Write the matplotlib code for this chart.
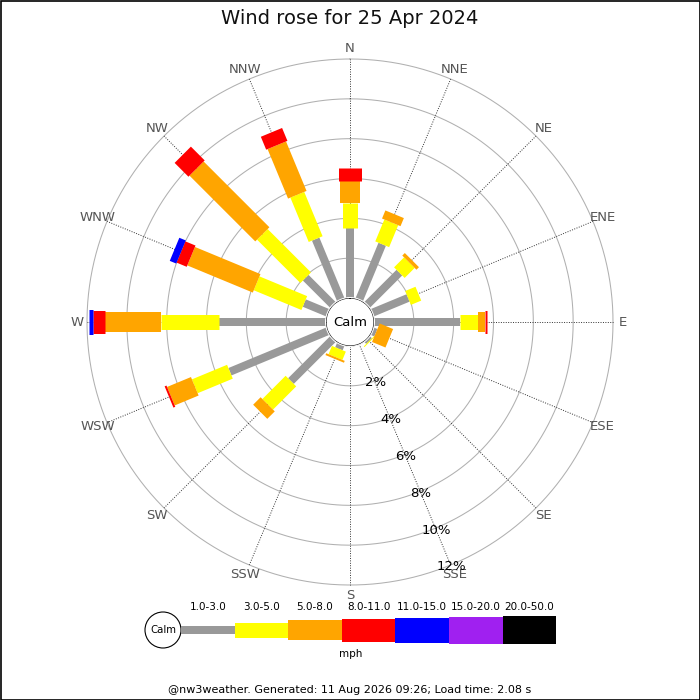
import numpy as np
import matplotlib
matplotlib.use("Agg")
import matplotlib.pyplot as plt
from matplotlib.patches import Circle, Rectangle

# ---------------- data ----------------
directions = ["N", "NNE", "NE", "ENE", "E", "ESE", "SE", "SSE",
              "S", "SSW", "SW", "WSW", "W", "WNW", "NW", "NNW"]
speed_classes = ["1.0-3.0", "3.0-5.0", "5.0-8.0", "8.0-11.0",
                 "11.0-15.0", "15.0-20.0", "20.0-50.0"]
# percentage of time per direction for each speed class
pct_1_3 = [3.53, 3.02, 2.30, 1.95, 4.32, 0.20, 0.15, 0.0,
           0.0, 0.25, 2.99, 5.32, 5.36, 1.28, 1.94, 3.30]
pct_3_5 = [1.25, 1.19, 0.71, 0.56, 0.89, 0.0, 0.05, 0.0,
           0.0, 0.45, 1.65, 1.91, 2.92, 2.59, 3.08, 2.41]
pct_5_8 = [1.11, 0.44, 0.18, 0.0, 0.36, 0.73, 0.0, 0.0,
           0.0, 0.10, 0.53, 1.30, 2.81, 3.56, 4.67, 2.69]
pct_8_11 = [0.62, 0.0, 0.0, 0.0, 0.10, 0.0, 0.0, 0.0,
            0.0, 0.0, 0.0, 0.10, 0.59, 0.55, 0.98, 0.70]
pct_11_15 = [0.0, 0.0, 0.0, 0.0, 0.0, 0.0, 0.0, 0.0,
             0.0, 0.0, 0.0, 0.0, 0.20, 0.35, 0.0, 0.0]
pct_15_20 = [0.0] * 16
pct_20_50 = [0.0] * 16
ring_values = [2, 4, 6, 8, 10, 12]
title = "Wind rose for 25 Apr 2024"
footer = "@nw3weather. Generated: 11 Aug 2026 09:26; Load time: 2.08 s"

# ---------------- style ----------------
colors = ["#999999", "#ffff00", "#ffa500", "#ff0000", "#0000ff", "#a020f0", "#000000"]
widths_px = [8, 15, 20, 23, 25, 27, 28]
px2pt = 72 / 100

series = [pct_1_3, pct_3_5, pct_5_8, pct_8_11, pct_11_15, pct_15_20, pct_20_50]

fig = plt.figure(figsize=(7, 7), dpi=100)
W = H = 700.0
cx, cy, R = 350.0, 322.0, 263.0
ax = fig.add_axes([(cx - R) / W, 1 - (cy + R) / H, 2 * R / W, 2 * R / H],
                  projection="polar")
ax.set_theta_zero_location("N")
ax.set_theta_direction(-1)
rmax = ring_values[-1]
ax.set_ylim(0, rmax)
ax.set_rorigin(-1.205)
ax.grid(False)
ax.set_xticks([])
ax.set_yticks([])
for sp in ax.spines.values():
    sp.set_visible(False)
ax.set_facecolor("none")

thetas = np.deg2rad(np.arange(16) * 22.5)
full = np.linspace(0, 2 * np.pi, 400)

# rings
for rv in ring_values:
    ax.plot(full, np.full_like(full, rv), color="#b0b0b0", lw=0.75, zorder=1,
            clip_on=False)
# spokes
for th in thetas:
    ax.plot([th, th], [0, rmax], color="#333333", lw=0.7, ls=(0, (1, 1.5)), zorder=1,
            clip_on=False)

# stacked bars
for i, th in enumerate(thetas):
    start = 0.0
    for k, s in enumerate(series):
        v = s[i]
        if v <= 0:
            continue
        ax.plot([th, th], [start, start + v], color=colors[k],
                lw=widths_px[k] * px2pt, solid_capstyle="butt", zorder=3 + k,
                clip_on=False)
        start += v

# calm circle
ax.add_patch(Circle((0.5, 0.5), 25 / (2 * R), transform=ax.transAxes,
                    facecolor="white", edgecolor="none", zorder=20))
ax.text(0.5, 0.5, "Calm", transform=ax.transAxes, ha="center", va="center",
        fontsize=9.5, color="black", zorder=21)

# direction labels
for th, name in zip(thetas, directions):
    ax.text(th, rmax + 0.52, name, ha="center", va="center",
            fontsize=9.5, color="#555555", zorder=5)

# radial labels
lab_th = np.deg2rad(157.5)
for rv in ring_values:
    ax.text(lab_th, rv + 0.1, f"{rv}%", ha="center", va="center",
            fontsize=9.5, color="black", zorder=25)

# ---------------- overlay: title, legend, footer ----------------
ov = fig.add_axes([0, 0, 1, 1], facecolor="none")
ov.set_xlim(0, W)
ov.set_ylim(H, 0)
ov.axis("off")
ov.text(350, 18, title, ha="center", va="center", fontsize=14, color="#111111")

lx0, seg, ly = 181.0, 53.6, 630.0
ov.add_patch(Circle((163, ly), 18, facecolor="white", edgecolor="black", lw=0.8))
ov.text(163, ly, "Calm", ha="center", va="center", fontsize=7.3)
for k, (lab, c, wpx) in enumerate(zip(speed_classes, colors, widths_px)):
    x = lx0 + k * seg
    ov.add_patch(Rectangle((x, ly - wpx / 2), seg, wpx, facecolor=c, edgecolor="none"))
    ov.text(x + seg / 2, 607, lab, ha="center", va="center", fontsize=7.5)
ov.text(351, 654, "mph", ha="center", va="center", fontsize=7.5)
ov.text(350, 690, footer, ha="center", va="center", fontsize=8)
ov.add_patch(Rectangle((0.5, 0.5), W - 1, H - 1, facecolor="none", edgecolor="black", lw=1.2))

fig.savefig("out.png", dpi=100)
